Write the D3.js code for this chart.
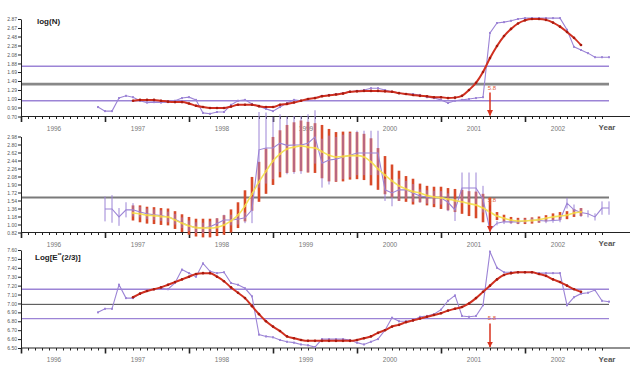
<html lang='eng'>
    <head>
        <title>
            log(N), spread and Log[E**(2/3)] by month
        </title>
        <script src="https://d3js.org/d3.v7.min.js" charset="utf-8"></script>
        <style>
          body {
            margin: 0;
            background: #fff;
            font-family: "Liberation Sans", Arial, sans-serif;
          }
          .ylab { font-size: 5px; fill: #555; }
          .yr { font-size: 6.5px; fill: #777; }
          .yrword { font-size: 8px; font-weight: bold; fill: #555; }
          .title { font-size: 8px; font-weight: bold; fill: #222; }
          .mark { font-size: 6px; fill: #e0603a; }
        </style>
    </head>
    <body>
        <script>
            //1. Data (monthly values, index 0 = first observed month)
            var firstMonth = 1996 + 5 / 12
            var fitStart = 5          // fitted / mean series start at index 5
            var markIndex = 56        // month of the 5.8 arrow
            var markLabel = "5.8"
            var years = [1996, 1997, 1998, 1999, 2000, 2001, 2002]

            // panel 1 : log(N)
            var logN_ticks = [0.70, 0.90, 1.09, 1.29, 1.49, 1.69, 1.88, 2.08, 2.28, 2.48, 2.67, 2.87]
            var logN_lines = [1.82, 1.42, 1.05]
            var logN_obs = [0.91,0.82,0.82,1.11,1.16,1.13,1.05,1.01,1.02,1.01,1.02,1.05,1.11,1.13,1.07,0.78,0.76,0.80,0.80,0.96,
                            1.05,1.07,0.98,0.93,0.87,0.82,0.91,1.00,1.07,1.05,1.09,1.11,1.16,1.18,1.20,1.22,1.25,1.27,1.29,1.33,
                            1.33,1.29,1.25,1.22,1.20,1.20,1.18,1.13,1.11,1.07,1.00,1.05,1.07,1.09,1.11,1.13,2.56,2.78,2.80,2.83,
                            2.87,2.89,2.89,2.89,2.89,2.89,2.89,2.63,2.25,2.18,2.11,2.02,2.02,2.02]
            var logN_fit = [1.05,1.07,1.07,1.07,1.05,1.03,1.02,1.02,0.99,0.94,0.91,0.89,0.89,0.89,0.92,0.96,0.96,0.96,0.93,0.91,
                            0.91,0.96,0.98,1.01,1.05,1.09,1.11,1.15,1.17,1.19,1.21,1.25,1.26,1.27,1.27,1.27,1.26,1.25,1.22,1.20,
                            1.18,1.16,1.15,1.13,1.13,1.11,1.12,1.16,1.29,1.45,1.69,2.00,2.27,2.49,2.65,2.77,2.84,2.87,2.87,2.85,
                            2.79,2.70,2.58,2.45,2.29]

            // panel 2 : observed with error, mean with spread
            var spread_ticks = [0.82, 1.00, 1.18, 1.36, 1.54, 1.72, 1.90, 2.08, 2.26, 2.44, 2.62, 2.80, 2.98]
            var spread_lines = [1.61]
            var spread_obsStart = 1
            var spread_obs = [1.35,1.35,1.17,1.33,1.33,1.28,1.24,1.22,1.20,1.17,1.12,1.04,0.97,0.93,0.92,0.95,1.02,1.10,1.10,1.12,
                              1.15,1.33,2.68,2.72,2.72,2.83,2.78,2.79,2.79,2.83,2.97,2.38,2.45,2.47,2.52,2.56,2.61,2.61,2.61,2.61,
                              1.78,1.71,1.78,1.78,1.71,1.64,1.62,1.61,1.60,1.50,1.33,1.82,1.82,1.82,1.57,0.88,1.03,1.06,1.06,1.06,
                              1.08,1.10,1.09,1.08,1.09,1.10,1.48,1.33,1.27,1.24,1.17,1.37,1.37]
            var spread_obsErr = [0.28,0.31,0.20,0.17,0.15,0.12,0.12,0.12,0.12,0.12,0.12,0.12,0.12,0.12,0.12,0.12,0.12,0.12,0.12,0.12,
                                 0.12,0.30,0.85,0.80,0.70,0.65,0.65,0.65,0.65,0.65,0.60,0.55,0.55,0.50,0.50,0.50,0.50,0.50,0.50,0.50,
                                 0.25,0.30,0.25,0.20,0.20,0.15,0.15,0.15,0.15,0.20,0.25,0.35,0.35,0.35,0.30,0.05,0.05,0.05,0.05,0.05,
                                 0.05,0.05,0.05,0.05,0.05,0.05,0.12,0.12,0.10,0.08,0.08,0.15,0.15]
            var spread_mean = [1.26,1.24,1.21,1.20,1.18,1.17,1.10,1.03,0.97,0.93,0.92,0.92,0.94,0.99,1.08,1.21,1.42,1.69,1.96,2.20,
                               2.43,2.59,2.70,2.74,2.77,2.74,2.72,2.64,2.56,2.52,2.53,2.55,2.55,2.52,2.41,2.25,2.11,1.98,1.87,1.80,
                               1.74,1.71,1.65,1.62,1.60,1.57,1.54,1.51,1.47,1.44,1.37,1.28,1.19,1.14,1.10,1.08,1.08,1.09,1.11,1.14,
                               1.17,1.19,1.21,1.26,1.28]
            var spread_err = [0.17,0.19,0.19,0.19,0.19,0.19,0.20,0.20,0.20,0.20,0.21,0.21,0.20,0.22,0.26,0.29,0.35,0.38,0.45,0.51,
                              0.54,0.53,0.54,0.56,0.57,0.57,0.56,0.60,0.59,0.56,0.56,0.54,0.53,0.52,0.53,0.47,0.43,0.37,0.34,0.29,
                              0.29,0.21,0.22,0.23,0.25,0.25,0.26,0.27,0.28,0.30,0.32,0.33,0.09,0.08,0.07,0.07,0.07,0.07,0.07,0.07,
                              0.08,0.09,0.09,0.09,0.09]

            // panel 3 : Log[E**(2/3)]
            var logE_ticks = [6.50, 6.60, 6.70, 6.80, 6.90, 7.00, 7.10, 7.20, 7.30, 7.40, 7.50, 7.60]
            var logE_lines = [7.16, 6.99, 6.83]
            var logE_obs = [6.90,6.94,6.94,7.21,7.06,7.06,7.11,7.14,7.16,7.17,7.16,7.23,7.38,7.34,7.30,7.45,7.36,7.34,7.35,7.23,
                            7.21,7.17,7.08,6.65,6.63,6.62,6.59,6.57,6.56,6.54,6.53,6.51,6.60,6.60,6.60,6.60,6.59,6.56,6.54,6.57,
                            6.60,6.70,6.84,6.80,6.80,6.81,6.85,6.86,6.88,6.93,7.03,7.09,6.86,6.85,6.86,6.98,7.58,7.40,7.35,7.35,
                            7.35,7.35,7.35,7.34,7.34,7.34,7.34,6.98,7.07,7.11,7.12,7.15,7.03,7.02]
            var logE_fit = [7.07,7.11,7.14,7.16,7.18,7.21,7.24,7.27,7.30,7.33,7.34,7.34,7.30,7.25,7.18,7.12,7.06,6.97,6.88,6.80,
                            6.74,6.69,6.63,6.61,6.59,6.58,6.58,6.58,6.58,6.58,6.58,6.58,6.59,6.61,6.63,6.67,6.70,6.74,6.76,6.79,
                            6.81,6.83,6.85,6.87,6.89,6.92,6.94,6.96,7.00,7.06,7.13,7.20,7.27,7.32,7.34,7.35,7.35,7.35,7.33,7.31,
                            7.27,7.24,7.20,7.16,7.13]

            //2. Canvas
            var width = 630
            var height = 369
            var svg = d3.select("body").append("svg")
                        .attr("width", width)
                        .attr("height", height)

            // arrow head, drawn pointing along the line
            svg.append("defs").append("marker")
                .attr("id", "head")
                .attr("viewBox", "0 0 10 10")
                .attr("refX", 9).attr("refY", 5)
                .attr("markerWidth", 4).attr("markerHeight", 4)
                .attr("orient", "auto")
                .append("path").attr("d", "M0,0 L10,5 L0,10 Z").attr("fill", "#d8321e")

            var purple = "#9c84d6"
            var red = "#d03020"

            function monthAt(i) { return firstMonth + i / 12 }

            //3. Shared x scale (decimal years)
            var x = d3.scaleLinear().domain([1995.5, 2002.5]).range([21, 609])

            // one panel: axes, reference lines
            function frame(y, ticks, lines, lineStyle) {
                var base = y.range()[0]
                var g = svg.append("g")

                // reference lines
                g.selectAll("line.ref").data(lines).enter().append("line")
                  .attr("x1", x(1995.5)).attr("x2", x(2002.5))
                  .attr("y1", d => y(d)).attr("y2", d => y(d))
                  .attr("stroke", (d, i) => lineStyle[i][0])
                  .attr("stroke-width", (d, i) => lineStyle[i][1])

                // y axis
                g.append("g")
                  .attr("transform", "translate(" + x(1995.5) + ",0)")
                  .call(d3.axisLeft(y).tickValues(ticks).tickSize(3).tickSizeOuter(0).tickFormat(d3.format(".2f")))
                  .call(a => a.selectAll("text").attr("class", "ylab").attr("font-size", null).attr("font-family", null).attr("x", -4))
                  .call(a => a.selectAll("line, path").attr("stroke", "#222"))

                // x axis, monthly ticks, longer at mid-year
                var months = d3.range(0, 84).map(k => 1995.5 + k / 12)
                g.append("g")
                  .attr("transform", "translate(0," + base + ")")
                  .call(d3.axisBottom(x).tickValues(months).tickSize(2.5).tickFormat(""))
                  .call(a => a.select(".domain").remove())
                  .call(a => a.selectAll("line").attr("stroke", "#222"))
                g.append("g")
                  .attr("transform", "translate(0," + base + ")")
                  .call(d3.axisBottom(x).tickValues(months.filter((m, k) => k % 12 == 0)).tickSize(5.5).tickFormat(""))
                  .call(a => a.select(".domain").remove())
                  .call(a => a.selectAll("line").attr("stroke", "#222").attr("stroke-width", 1.6))
                g.append("line")
                  .attr("x1", x(1995.5)).attr("x2", width)
                  .attr("y1", base).attr("y2", base)
                  .attr("stroke", "#222").attr("stroke-width", 1.2)

                g.selectAll("text.yr").data(years).enter().append("text")
                  .attr("class", "yr")
                  .attr("x", d => x(d) - 9)
                  .attr("y", base + 14)
                  .attr("text-anchor", "middle")
                  .text(d => d)
                g.append("text").attr("class", "yrword")
                  .attr("x", 607).attr("y", base + 13.5)
                  .attr("text-anchor", "middle").text("Year")
                return g
            }

            function arrow(y, at) {
                var base = y.range()[0]
                var xm = x(monthAt(markIndex))
                svg.append("text").attr("class", "mark")
                  .attr("x", xm + 2).attr("y", y(at)).attr("text-anchor", "middle")
                  .text(markLabel)
                svg.append("line")
                  .attr("x1", xm).attr("x2", xm)
                  .attr("y1", y(at) + 3).attr("y2", base - 1)
                  .attr("stroke", "#d8321e").attr("stroke-width", 1.5)
                  .attr("marker-end", "url(#head)")
            }

            function obsLine(y, values, start) {
                var pts = values.map((v, i) => [x(monthAt(i + start)), y(v)])
                svg.append("path")
                  .attr("d", d3.line()(pts))
                  .attr("fill", "none").attr("stroke", purple).attr("stroke-width", 1.1)
                svg.append("g").selectAll("rect").data(pts).enter().append("rect")
                  .attr("x", d => d[0] - 1).attr("y", d => d[1] - 1)
                  .attr("width", 2).attr("height", 2).attr("fill", purple)
            }

            function fitLine(y, values) {
                var pts = values.map((v, i) => [x(monthAt(i + fitStart)), y(v)])
                svg.append("path")
                  .attr("d", d3.line().curve(d3.curveMonotoneX)(pts))
                  .attr("fill", "none").attr("stroke", red).attr("stroke-width", 2)
                svg.append("g").selectAll("circle").data(pts).enter().append("circle")
                  .attr("cx", d => d[0]).attr("cy", d => d[1]).attr("r", 1.3)
                  .attr("fill", "#a81a0e")
            }

            //4. Panel 1 : log(N)
            var y1 = d3.scaleLinear().domain([0.70, 2.87]).range([116.5, 19])
            frame(y1, logN_ticks, logN_lines, [[purple, 1.4], ["#888", 2.6], [purple, 1.4]])
            obsLine(y1, logN_obs, 0)
            fitLine(y1, logN_fit)
            arrow(y1, 1.30)
            svg.append("text").attr("class", "title").attr("x", 37).attr("y", 24).text("log(N)")

            //5. Panel 2 : spread
            var y2 = d3.scaleLinear().domain([0.82, 2.98]).range([232.5, 136.5])
            frame(y2, spread_ticks, spread_lines, [["#7a7a7a", 2]])
            svg.append("g").selectAll("line").data(spread_mean).enter().append("line")
              .attr("x1", (d, i) => x(monthAt(i + fitStart))).attr("x2", (d, i) => x(monthAt(i + fitStart)))
              .attr("y1", (d, i) => y2(d - spread_err[i])).attr("y2", (d, i) => y2(d + spread_err[i]))
              .attr("stroke", "#d84a2a").attr("stroke-width", 2.6)
            svg.append("g").selectAll("line").data(spread_obs).enter().append("line")
              .attr("x1", (d, i) => x(monthAt(i + spread_obsStart))).attr("x2", (d, i) => x(monthAt(i + spread_obsStart)))
              .attr("y1", (d, i) => y2(d - spread_obsErr[i])).attr("y2", (d, i) => y2(d + spread_obsErr[i]))
              .attr("stroke", purple).attr("stroke-width", 1)
            svg.append("path")
              .attr("d", d3.line()(spread_obs.map((v, i) => [x(monthAt(i + spread_obsStart)), y2(v)])))
              .attr("fill", "none").attr("stroke", purple).attr("stroke-width", 1.1)
            var meanPts = spread_mean.map((v, i) => [x(monthAt(i + fitStart)), y2(v)])
            svg.append("path")
              .attr("d", d3.line().curve(d3.curveMonotoneX)(meanPts))
              .attr("fill", "none").attr("stroke", "#f3e25a").attr("stroke-width", 1.6)
            svg.append("g").selectAll("circle").data(meanPts).enter().append("circle")
              .attr("cx", d => d[0]).attr("cy", d => d[1]).attr("r", 1.2).attr("fill", "#f0c040")
            arrow(y2, 1.50)

            //6. Panel 3 : Log[E**(2/3)]
            var y3 = d3.scaleLinear().domain([6.50, 7.60]).range([348, 250])
            frame(y3, logE_ticks, logE_lines, [[purple, 1.4], ["#444", 1], [purple, 1.4]])
            obsLine(y3, logE_obs, 0)
            fitLine(y3, logE_fit)
            arrow(y3, 6.81)
            var t3 = svg.append("text").attr("class", "title").attr("x", 35).attr("y", 260)
            t3.append("tspan").text("Log[E")
            t3.append("tspan").attr("font-size", "5px").attr("dy", -3).text("**")
            t3.append("tspan").attr("dy", 3).text("(2/3)]")
        </script>
    </body>
</html>
